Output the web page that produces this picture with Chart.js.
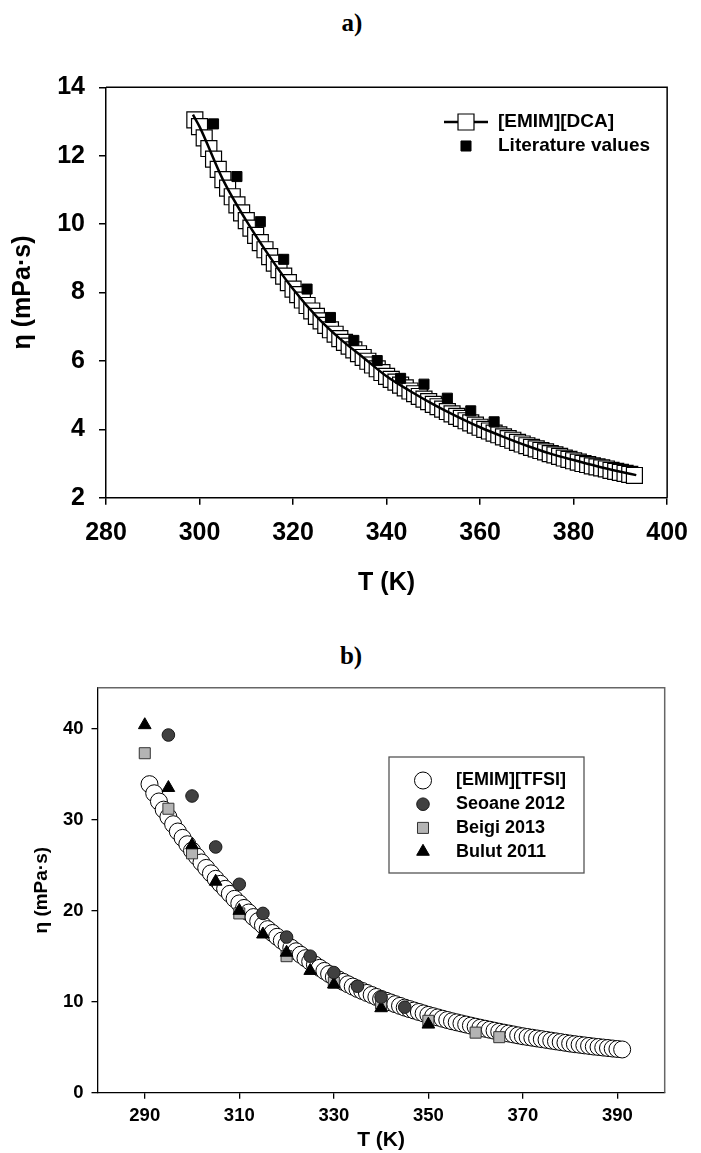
<!DOCTYPE html>
<html lang="en">
<head>
    <meta charset="UTF-8">
    <title>Viscosity vs temperature</title>
    <script src="https://cdn.jsdelivr.net/npm/chart.js"></script>
    <style>
        body { margin: 0; background: #fff; }
        #page { position: relative; width: 701px; height: 1153px; }
        canvas { position: absolute; left: 0; }
        .panel { position: absolute; font-family: "Liberation Serif", "Times New Roman", serif; font-weight: bold; font-size: 25px; width: 100px; text-align: center; }
    </style>
</head>
<body>
<div id="page">
    <div class="panel" style="left:302px; top:9px;">a)</div>
    <canvas id="chartA" width="701" height="620" style="top:0px"></canvas>
    <div class="panel" style="left:301px; top:642px;">b)</div>
    <canvas id="chartB" width="701" height="533" style="top:620px"></canvas>
</div>
<script>
    // ---- a) [EMIM][DCA] ----
    var dcaT = [299, 300, 301, 302, 303, 304, 305, 306, 307, 308, 309, 310, 311, 312, 313, 314, 315, 316, 317, 318, 319,
        320, 321, 322, 323, 324, 325, 326, 327, 328, 329, 330, 331, 332, 333, 334, 335, 336, 337, 338, 339,
        340, 341, 342, 343, 344, 345, 346, 347, 348, 349, 350, 351, 352, 353, 354, 355, 356, 357, 358, 359,
        360, 361, 362, 363, 364, 365, 366, 367, 368, 369, 370, 371, 372, 373, 374, 375, 376, 377, 378, 379,
        380, 381, 382, 383, 384, 385, 386, 387, 388, 389, 390, 391, 392, 393];
    var dcaEta = [13.05, 12.85, 12.52, 12.21, 11.9, 11.6, 11.3, 11.05, 10.8, 10.56, 10.33, 10.1, 9.88, 9.67, 9.46, 9.25, 9.05, 8.86, 8.67, 8.48, 8.29,
        8.1, 7.94, 7.78, 7.62, 7.46, 7.3, 7.17, 7.04, 6.91, 6.78, 6.65, 6.54, 6.43, 6.32, 6.21, 6.1, 5.99, 5.88, 5.77, 5.66,
        5.55, 5.46, 5.38, 5.29, 5.21, 5.12, 5.04, 4.96, 4.88, 4.81, 4.73, 4.66, 4.59, 4.52, 4.45, 4.38, 4.32, 4.25, 4.19, 4.12,
        4.06, 4.0, 3.95, 3.89, 3.84, 3.78, 3.73, 3.68, 3.62, 3.57, 3.52, 3.47, 3.43, 3.38, 3.34, 3.29, 3.25, 3.21, 3.16, 3.12,
        3.08, 3.04, 3.0, 2.97, 2.93, 2.9, 2.87, 2.84, 2.8, 2.77, 2.74, 2.71, 2.68, 2.65];
    var fitT = [298.6, 300, 305, 310, 315, 320, 325, 330, 335, 340, 345, 350, 355, 360, 365, 370, 375, 380, 385, 390, 393.4];
    var fitEta = [13.2, 12.85, 11.3, 10.1, 9.05, 8.1, 7.3, 6.65, 6.1, 5.55, 5.12, 4.73, 4.38, 4.06, 3.78, 3.52, 3.29, 3.1, 2.92, 2.76, 2.66];
    var litT = [303, 308, 313, 318, 323, 328, 333, 338, 343, 348, 353, 358, 363];
    var litEta = [12.93, 11.39, 10.07, 8.97, 8.1, 7.27, 6.6, 6.01, 5.49, 5.32, 4.91, 4.54, 4.22];
    var aXTicks = [280, 300, 320, 340, 360, 380, 400];
    var aYTicks = [2, 4, 6, 8, 10, 12, 14];

    // ---- b) [EMIM][TFSI] ----
    var tfsiT = [291, 292, 293, 294, 295, 296, 297, 298, 299, 300, 301, 302, 303, 304, 305, 306, 307, 308, 309, 310,
        311, 312, 313, 314, 315, 316, 317, 318, 319, 320, 321, 322, 323, 324, 325, 326, 327, 328, 329, 330,
        331, 332, 333, 334, 335, 336, 337, 338, 339, 340, 341, 342, 343, 344, 345, 346, 347, 348, 349, 350,
        351, 352, 353, 354, 355, 356, 357, 358, 359, 360, 361, 362, 363, 364, 365, 366, 367, 368, 369, 370,
        371, 372, 373, 374, 375, 376, 377, 378, 379, 380, 381, 382, 383, 384, 385, 386, 387, 388, 389, 390, 391];
    var tfsiEta = [33.9, 32.9, 32.0, 31.1, 30.3, 29.5, 28.7, 28.0, 27.3, 26.6, 25.95, 25.3, 24.7, 24.1, 23.5, 22.95, 22.4, 21.85, 21.3, 20.8,
        20.3, 19.8, 19.3, 18.85, 18.4, 17.97, 17.55, 17.13, 16.71, 16.3, 15.92, 15.54, 15.16, 14.78, 14.4, 14.06, 13.72, 13.38, 13.04, 12.7,
        12.44, 12.18, 11.92, 11.66, 11.4, 11.18, 10.96, 10.74, 10.52, 10.3, 10.11, 9.92, 9.73, 9.54, 9.35, 9.19, 9.03, 8.87, 8.71, 8.55,
        8.41, 8.27, 8.13, 7.99, 7.85, 7.73, 7.61, 7.49, 7.37, 7.25, 7.14, 7.03, 6.92, 6.81, 6.7, 6.6, 6.5, 6.4, 6.3, 6.2,
        6.12, 6.04, 5.96, 5.88, 5.8, 5.72, 5.64, 5.56, 5.48, 5.4, 5.33, 5.27, 5.2, 5.14, 5.07, 5.02, 4.96, 4.91, 4.85, 4.8, 4.75];
    var seoaneT = [295, 300, 305, 310, 315, 320, 325, 330, 335, 340, 345];
    var seoaneEta = [39.3, 32.6, 27.0, 22.9, 19.7, 17.1, 15.0, 13.2, 11.7, 10.5, 9.4];
    var beigiT = [290, 295, 300, 310, 320, 330, 340, 350, 360, 365];
    var beigiEta = [37.3, 31.2, 26.3, 19.7, 15.0, 12.1, 9.8, 7.9, 6.6, 6.1];
    var bulutT = [290, 295, 300, 305, 310, 315, 320, 325, 330, 340, 350];
    var bulutEta = [40.4, 33.5, 27.2, 23.2, 20.0, 17.4, 15.4, 13.4, 11.9, 9.3, 7.5];
    var bXTicks = [290, 310, 330, 350, 370, 390];
    var bYTicks = [0, 10, 20, 30, 40];

    function pts(xs, ys) {
        var out = [];
        for (var i = 0; i < xs.length; i++) out.push({x: xs[i], y: ys[i]});
        return out;
    }

    function setTicks(list) {
        return function (scale) {
            scale.ticks = list.map(function (v) { return {value: v}; });
        };
    }

    function boldFont(size) {
        return {family: "'Liberation Sans', Arial, sans-serif", size: size, weight: 'bold'};
    }

    // draws the top/right frame lines and a small legend inside the plot
    var framePlugin = {
        id: 'frameLegend',
        afterDraw: function (chart, args, opts) {
            var ctx = chart.ctx;
            var a = chart.chartArea;
            ctx.save();
            ctx.strokeStyle = opts.frameColor;
            ctx.lineWidth = 1.5;
            ctx.beginPath();
            ctx.moveTo(a.left, a.top);
            ctx.lineTo(a.right, a.top);
            ctx.lineTo(a.right, a.bottom);
            ctx.stroke();

            var lg = opts.legend;
            if (lg.box) {
                ctx.strokeStyle = '#555';
                ctx.lineWidth = 1.3;
                ctx.strokeRect(lg.box[0], lg.box[1], lg.box[2], lg.box[3]);
            }
            ctx.font = 'bold ' + lg.size + "px 'Liberation Sans', Arial, sans-serif";
            ctx.textBaseline = 'middle';
            ctx.fillStyle = '#000';
            lg.items.forEach(function (it, i) {
                var y = lg.y + i * lg.gap;
                var ds = chart.data.datasets[it.ds];
                if (it.line) {
                    ctx.strokeStyle = '#000';
                    ctx.lineWidth = 2.5;
                    ctx.beginPath();
                    ctx.moveTo(lg.mx - 22, y);
                    ctx.lineTo(lg.mx + 22, y);
                    ctx.stroke();
                }
                ctx.fillStyle = ds.backgroundColor;
                ctx.strokeStyle = ds.borderColor;
                ctx.lineWidth = ds.borderWidth;
                var r = ds.pointRadius;
                ctx.beginPath();
                if (ds.pointStyle === 'circle') {
                    ctx.arc(lg.mx, y, r, 0, Math.PI * 2);
                } else if (ds.pointStyle === 'rect') {
                    var s = r * Math.SQRT1_2;
                    ctx.rect(lg.mx - s, y - s, 2 * s, 2 * s);
                } else {
                    ctx.moveTo(lg.mx, y - r);
                    ctx.lineTo(lg.mx + r * 0.866, y + r / 2);
                    ctx.lineTo(lg.mx - r * 0.866, y + r / 2);
                    ctx.closePath();
                }
                ctx.fill();
                ctx.stroke();
                ctx.fillStyle = '#000';
                ctx.fillText(it.text, lg.tx, y);
            });
            ctx.restore();
        }
    };

    new Chart(document.getElementById('chartA'), {
        type: 'scatter',
        data: {
            datasets: [
                {label: 'Literature values', data: pts(litT, litEta), pointStyle: 'rect', pointRadius: 7.1,
                    backgroundColor: '#000', borderColor: '#000', borderWidth: 1, order: 0},
                {label: 'fit', data: pts(fitT, fitEta), showLine: true, pointRadius: 0, borderColor: '#000',
                    backgroundColor: '#000', borderWidth: 2.5, cubicInterpolationMode: 'monotone', order: 1},
                {label: '[EMIM][DCA]', data: pts(dcaT, dcaEta), pointStyle: 'rect', pointRadius: 11.3,
                    backgroundColor: '#fff', borderColor: '#000', borderWidth: 1.2, order: 2}
            ]
        },
        options: {
            responsive: false,
            animation: false,
            devicePixelRatio: 1,
            layout: {padding: {top: 87.3, right: 25, left: 0, bottom: 0}},
            scales: {
                x: {
                    type: 'linear', position: 'bottom', min: 280, max: 400,
                    afterBuildTicks: setTicks(aXTicks),
                    afterFit: function (s) { s.height = 122.3; },
                    grid: {drawOnChartArea: false, drawTicks: true, tickLength: 7, color: '#000', lineWidth: 1.5},
                    border: {color: '#000', width: 1.5},
                    ticks: {color: '#000', font: boldFont(25), padding: 13, maxRotation: 0, autoSkip: false},
                    title: {display: true, text: 'T (K)', color: '#000', font: boldFont(25), padding: {top: 0, bottom: 22}}
                },
                y: {
                    type: 'linear', position: 'left', min: 2, max: 14,
                    afterBuildTicks: setTicks(aYTicks),
                    afterFit: function (s) { s.width = 106; },
                    grid: {drawOnChartArea: false, drawTicks: true, tickLength: 7, color: '#000', lineWidth: 1.5},
                    border: {color: '#000', width: 1.5},
                    ticks: {color: '#000', font: boldFont(25), padding: 14, autoSkip: false},
                    title: {display: true, text: 'η (mPa·s)', color: '#000', font: boldFont(25), padding: {top: 8, bottom: 0}}
                }
            },
            plugins: {
                legend: {display: false},
                tooltip: {enabled: false},
                frameLegend: {
                    frameColor: '#000',
                    legend: {size: 19, y: 122, gap: 24, mx: 466, tx: 498, items: [
                        {text: '[EMIM][DCA]', ds: 2, line: true},
                        {text: 'Literature values', ds: 0}
                    ]}
                }
            }
        },
        plugins: [framePlugin]
    });

    new Chart(document.getElementById('chartB'), {
        type: 'scatter',
        data: {
            datasets: [
                {label: 'Seoane 2012', data: pts(seoaneT, seoaneEta), pointStyle: 'circle', pointRadius: 6.3,
                    backgroundColor: '#404040', borderColor: '#1a1a1a', borderWidth: 1, order: 0},
                {label: 'Bulut 2011', data: pts(bulutT, bulutEta), pointStyle: 'triangle', pointRadius: 7.3,
                    backgroundColor: '#000', borderColor: '#000', borderWidth: 1, order: 1},
                {label: 'Beigi 2013', data: pts(beigiT, beigiEta), pointStyle: 'rect', pointRadius: 7.8,
                    backgroundColor: '#b4b4b4', borderColor: '#333', borderWidth: 1, order: 2},
                {label: '[EMIM][TFSI]', data: pts(tfsiT, tfsiEta), pointStyle: 'circle', pointRadius: 8.5,
                    backgroundColor: '#fff', borderColor: '#000', borderWidth: 1, order: 3}
            ]
        },
        options: {
            responsive: false,
            animation: false,
            devicePixelRatio: 1,
            layout: {padding: {top: 67.7, right: 36.3, left: 0, bottom: 0}},
            scales: {
                x: {
                    type: 'linear', position: 'bottom', min: 280, max: 400,
                    afterBuildTicks: setTicks(bXTicks),
                    afterFit: function (s) { s.height = 60.3; },
                    grid: {drawOnChartArea: false, drawTicks: true, tickLength: 6, color: '#000', lineWidth: 1.3},
                    border: {color: '#000', width: 1.3},
                    ticks: {color: '#000', font: boldFont(18.5), padding: 6, maxRotation: 0, autoSkip: false},
                    title: {display: true, text: 'T (K)', color: '#000', font: boldFont(21), padding: {top: 0, bottom: 0}}
                },
                y: {
                    type: 'linear', position: 'left', min: 0, max: 44.5,
                    afterBuildTicks: setTicks(bYTicks),
                    afterFit: function (s) { s.width = 97.5; },
                    grid: {drawOnChartArea: false, drawTicks: true, tickLength: 6, color: '#000', lineWidth: 1.3},
                    border: {color: '#000', width: 1.3},
                    ticks: {color: '#000', font: boldFont(18.5), padding: 8, autoSkip: false},
                    title: {display: true, text: 'η (mPa·s)', color: '#000', font: boldFont(19), padding: {top: 30, bottom: 0}}
                }
            },
            plugins: {
                legend: {display: false},
                tooltip: {enabled: false},
                frameLegend: {
                    frameColor: '#666',
                    legend: {size: 18, y: 160.5, gap: 23.7, mx: 423, tx: 456, box: [389, 137, 195, 116], items: [
                        {text: '[EMIM][TFSI]', ds: 3},
                        {text: 'Seoane 2012', ds: 0},
                        {text: 'Beigi 2013', ds: 2},
                        {text: 'Bulut 2011', ds: 1}
                    ]}
                }
            }
        },
        plugins: [framePlugin]
    });
</script>
</body>
</html>
